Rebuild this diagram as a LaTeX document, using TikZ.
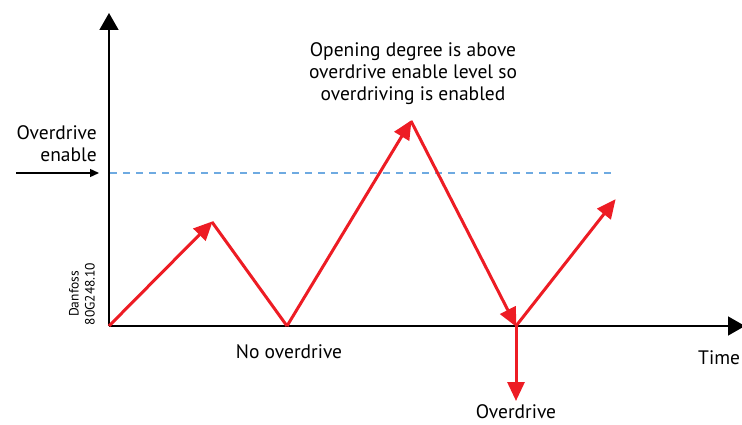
\documentclass[tikz,border=0pt]{standalone}
\usepackage{fontspec}
\setmainfont{PT Sans}
\usetikzlibrary{arrows.meta}
\definecolor{dfred}{RGB}{237,28,36}
\definecolor{dfblue}{RGB}{110,170,225}
\begin{document}
\begin{tikzpicture}[x=1pt,y=-1pt,
  axis/.style={line width=1.6pt,-{Triangle[length=17pt,width=19pt]}},
  redline/.style={draw=dfred,line width=3pt},
  redarrow/.style={redline,-{Triangle[length=19pt,width=17pt]},shorten >=-1pt},
  lbl/.style={font=\fontsize{19.5}{22}\selectfont,inner sep=0pt},
  small/.style={font=\fontsize{13.5}{16}\selectfont,inner sep=0pt}]
\useasboundingbox (0,0) rectangle (742,425);
% points
\coordinate (O) at (109,326);
\coordinate (ytop) at (109,13);
\coordinate (xend) at (745,326);
\coordinate (p1) at (212,222);
\coordinate (v1) at (287,326);
\coordinate (p2) at (411,121);
\coordinate (v2) at (516,326);
\coordinate (d2) at (516,400);
\coordinate (e2) at (615,200);
\coordinate (dl) at (110,173);
\coordinate (dr) at (615,173);
\coordinate (ea) at (16,173);
\coordinate (eb) at (99,173);
% dashed level
\draw[dfblue,line width=1.3pt,dash pattern=on 7pt off 6pt] (dl) -- (dr);
% axes
\draw[axis] (O) -- (ytop);
\draw[axis] (O) -- (xend);
\draw[line width=1.4pt,-{Triangle[length=9pt,width=8pt]}] (ea) -- (eb);
% red path
\draw[redline,line join=miter] (p1) -- (v1);
\draw[redarrow] (O) -- (p1);
\draw[redarrow] (v1) -- (p2);
\draw[redarrow] (p2) -- (v2);
\draw[redarrow] (v2) -- (d2);
\draw[redarrow] (v2) -- (e2);
% labels
\node[lbl,align=right,anchor=east] (enable) at (97,144) {Overdrive\\enable};
\node[lbl,align=center] (note) at (413,74) {Opening degree is above\\overdrive enable level so\\overdriving is enabled};
\node[lbl] (noover) at (289,352) {No overdrive};
\node[lbl,anchor=west] (time) at (698,358) {Time};
\node[lbl] (over) at (516,412) {Overdrive};
\node[small,rotate=90,align=center] (code) at (82,294) {Danfoss\\80G248.10};
\end{tikzpicture}
\end{document}
